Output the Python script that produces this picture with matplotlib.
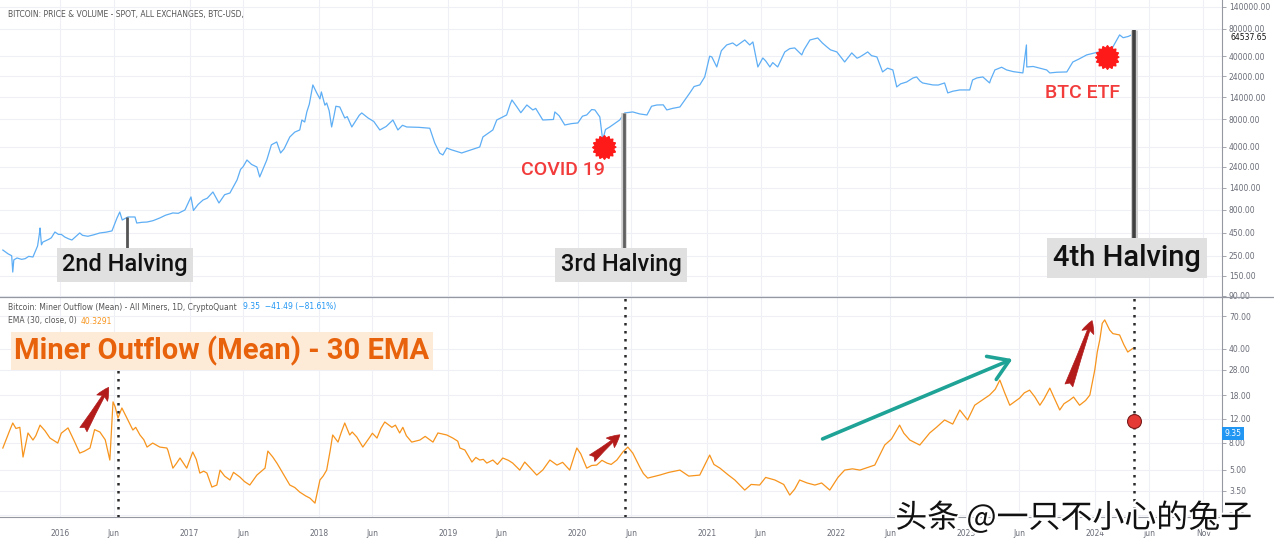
import matplotlib
matplotlib.use("Agg")
import matplotlib.pyplot as plt
import matplotlib.ticker as mticker
import matplotlib.patheffects as pe
from matplotlib.patches import FancyArrowPatch
from matplotlib.lines import Line2D
import numpy as np
import pandas as pd

# ---------------- data ----------------
price_dates = ["2015-07-24", "2015-08-08", "2015-08-18", "2015-08-21", "2015-08-24", "2015-09-02",
               "2015-09-25", "2015-10-17", "2015-10-30", "2015-11-04", "2015-11-06", "2015-11-10",
               "2015-11-14", "2015-12-01", "2015-12-18", "2016-01-05", "2016-01-15", "2016-02-04",
               "2016-02-26", "2016-03-20", "2016-04-23", "2016-05-27", "2016-06-10", "2016-06-18",
               "2016-06-25", "2016-07-11", "2016-07-31", "2016-08-05", "2016-09-03", "2016-10-09",
               "2016-11-15", "2016-12-19", "2017-01-05", "2017-01-12", "2017-02-08", "2017-03-08",
               "2017-03-25", "2017-04-25", "2017-05-15", "2017-06-12", "2017-07-10", "2017-07-18",
               "2017-08-07", "2017-09-04", "2017-09-15", "2017-10-11", "2017-11-08", "2017-11-14",
               "2017-11-22", "2017-12-15", "2017-12-26", "2018-01-04", "2018-01-08", "2018-01-18",
               "2018-01-23", "2018-02-06", "2018-02-12", "2018-03-01", "2018-03-15", "2018-04-04",
               "2018-05-02", "2018-06-22", "2018-07-29", "2018-08-12", "2018-09-06", "2018-11-10",
               "2018-11-24", "2018-12-17", "2018-12-28", "2019-02-08", "2019-03-31", "2019-04-09",
               "2019-05-07", "2019-05-18", "2019-06-15", "2019-06-30", "2019-07-14", "2019-08-11",
               "2019-08-28", "2019-09-25", "2019-10-29", "2019-11-26", "2020-01-02", "2020-01-27",
               "2020-02-19", "2020-03-04", "2020-03-12", "2020-04-01", "2020-04-29", "2020-05-13",
               "2020-06-05", "2020-07-15", "2020-08-12", "2020-09-09", "2020-10-16", "2020-11-13",
               "2020-12-11", "2020-12-25", "2021-01-14", "2021-01-28", "2021-02-25", "2021-03-14",
               "2021-04-17", "2021-05-01", "2021-05-10", "2021-05-24", "2021-06-07", "2021-06-27",
               "2021-07-19", "2021-08-08", "2021-09-05", "2021-09-25", "2021-10-18", "2021-11-09",
               "2021-12-05", "2022-01-02", "2022-01-24", "2022-02-13", "2022-03-08", "2022-03-30",
               "2022-04-25", "2022-05-11", "2022-06-09", "2022-06-20", "2022-07-18", "2022-08-15",
               "2022-09-01", "2022-09-30", "2022-11-02", "2022-11-11", "2022-12-15", "2023-01-12",
               "2023-01-20", "2023-02-18", "2023-03-09", "2023-03-24", "2023-04-26", "2023-06-11",
               "2023-06-21", "2023-06-22", "2023-08-17", "2023-08-26", "2023-10-13", "2023-10-30",
               "2023-12-08", "2024-01-14", "2024-02-03", "2024-02-20", "2024-03-10", "2024-03-30",
               "2024-04-13", "2024-04-22",
               # additional readings of the jagged line
               "2015-09-15", "2015-10-05", "2015-12-08", "2015-12-28", "2016-01-25", "2016-03-05",
               "2016-04-05", "2016-05-10", "2016-08-20", "2016-09-20", "2016-10-25", "2016-11-30",
               "2017-01-25", "2017-02-20", "2017-04-10", "2017-05-25", "2017-06-01", "2017-06-25",
               "2017-08-20", "2017-09-25", "2017-10-25", "2017-11-28", "2017-12-05", "2017-12-20",
               "2018-01-30", "2018-02-18", "2018-03-22", "2018-04-25", "2018-05-20", "2018-06-05",
               "2018-07-10", "2018-08-25", "2018-10-10", "2018-12-08", "2019-01-10", "2019-06-25",
               "2019-07-25", "2019-09-05", "2019-10-25", "2019-11-10", "2019-12-15", "2020-01-15",
               "2020-02-10", "2020-03-20", "2020-06-25", "2020-07-28", "2020-08-30", "2020-09-25",
               "2020-11-25", "2021-01-08", "2021-02-10", "2021-03-25", "2021-06-15", "2021-07-05",
               "2021-08-22", "2021-10-01", "2021-11-22", "2021-12-15", "2022-02-28", "2022-03-20",
               "2022-04-10", "2022-05-25", "2022-07-01", "2022-08-05", "2022-08-25", "2022-10-15",
               "2022-11-25", "2023-02-01", "2023-03-12", "2023-04-12", "2023-05-15", "2023-07-10",
               "2023-09-15", "2023-11-15", "2024-01-05", "2024-01-22", "2024-03-20", "2024-04-03"]
price_values = [289, 262, 250, 165, 225, 236,
                232, 242, 320, 430, 506, 330,
                354, 380, 457, 430, 402, 373,
                446, 410, 446, 470, 650, 760,
                620, 670, 670, 574, 589, 653,
                742, 800, 1115, 790, 1031, 1265,
                956, 1233, 1715, 2853, 2388, 1854,
                2853, 4512, 3412, 5130, 6125, 7892,
                7500, 19250, 15710, 13500, 16110, 11500,
                12170, 6610, 8500, 10990, 8300, 6610,
                9443, 6125, 7892, 6125, 6610, 6400,
                4399, 3243, 3874, 3412, 3973, 5130,
                6125, 7892, 8971, 13130, 10990, 11560,
                10190, 7892, 9685, 6953, 7319, 8971,
                10190, 8526, 4746, 6610, 7892, 9443,
                9685, 8971, 11560, 10190, 10990, 15710,
                19250, 23600, 39270, 30420, 53230, 55990,
                60410, 53230, 57440, 30420, 38200, 30420,
                30420, 44580, 49340, 41310, 60410, 63560,
                50590, 44580, 34530, 43470, 39270, 44580,
                39270, 26800, 28200, 18290, 20760, 23600,
                20250, 19250, 20250, 15710, 16950, 16950,
                21840, 23600, 20250, 28200, 28200, 26130,
                53230, 30420, 28200, 26130, 26800, 34530,
                41310, 44580, 39270, 50590, 68730, 65340,
                68730, 64537.65,
                228, 246, 395, 430, 385, 420,
                425, 455, 585, 610, 700, 735,
                920, 1080, 1180, 2250, 2400, 2550,
                4200, 3800, 5800, 9700, 11800, 17500,
                10000, 11200, 8600, 8900, 8300, 7600,
                6700, 6900, 6550, 3400, 3700, 11800,
                9500, 10600, 8000, 8800, 7200, 8700,
                10300, 6200, 9200, 11200, 11600, 10600,
                18500, 40000, 46000, 52000, 35500, 34000,
                48500, 47000, 56000, 47000, 38000, 42000,
                40500, 29500, 19800, 23000, 21200, 19200,
                16400, 23000, 22000, 30200, 27000, 30800,
                26600, 37000, 44000, 40000, 64000, 66000]

outflow_dates = ["2015-07-24", "2015-08-04", "2015-08-21", "2015-09-10", "2015-09-19", "2015-10-03",
                 "2015-10-17", "2015-11-06", "2015-12-04", "2015-12-26", "2016-01-24", "2016-02-12",
                 "2016-02-26", "2016-03-26", "2016-04-23", "2016-05-21", "2016-05-30", "2016-06-13",
                 "2016-06-24", "2016-07-08", "2016-07-25", "2016-08-14", "2016-09-03", "2016-09-19",
                 "2016-10-09", "2016-10-29", "2016-11-15", "2016-12-05", "2016-12-24", "2017-01-10",
                 "2017-01-30", "2017-02-19", "2017-03-05", "2017-03-19", "2017-03-28", "2017-04-25",
                 "2017-05-23", "2017-06-20", "2017-07-10", "2017-08-02", "2017-08-10", "2017-08-24",
                 "2017-09-21", "2017-10-11", "2017-11-08", "2017-12-07", "2017-12-21", "2018-01-04",
                 "2018-01-18", "2018-01-23", "2018-02-09", "2018-02-24", "2018-03-15", "2018-03-29",
                 "2018-04-18", "2018-05-05", "2018-05-25", "2018-06-14", "2018-07-06", "2018-07-26",
                 "2018-08-17", "2018-08-26", "2018-09-20", "2018-10-13", "2018-11-19", "2018-12-03",
                 "2018-12-28", "2019-01-14", "2019-02-03", "2019-02-17", "2019-03-09", "2019-03-31",
                 "2019-04-20", "2019-05-07", "2019-06-04", "2019-07-02", "2019-07-22", "2019-08-05",
                 "2019-09-08", "2019-10-15", "2019-11-04", "2019-12-10", "2019-12-30", "2020-01-27",
                 "2020-02-24", "2020-03-24", "2020-04-21", "2020-05-08", "2020-05-22", "2020-06-05",
                 "2020-06-25", "2020-07-17", "2020-08-20", "2020-10-16", "2020-12-11", "2021-01-08",
                 "2021-02-06", "2021-03-20", "2021-04-17", "2021-05-29", "2021-07-11", "2021-08-22",
                 "2021-09-19", "2021-11-01", "2021-12-13", "2022-01-24", "2022-03-08", "2022-04-19",
                 "2022-05-17", "2022-06-28", "2022-07-27", "2022-08-24", "2022-09-21", "2022-11-02",
                 "2022-12-15", "2023-01-06", "2023-01-26", "2023-03-09", "2023-04-07", "2023-05-05",
                 "2023-06-02", "2023-06-30", "2023-07-29", "2023-08-26", "2023-09-23", "2023-10-21",
                 "2023-11-18", "2023-12-17", "2023-12-31", "2024-01-14", "2024-01-28", "2024-02-11",
                 "2024-03-10", "2024-04-02", "2024-04-16",
                 # additional readings
                 "2015-08-12", "2015-08-30", "2015-10-25", "2015-11-20", "2016-01-05", "2016-03-10",
                 "2016-04-08", "2016-05-08", "2016-06-05", "2016-08-02", "2016-08-25", "2016-11-01",
                 "2016-11-25", "2017-01-20", "2017-02-10", "2017-04-10", "2017-05-05", "2017-06-05",
                 "2017-09-05", "2017-10-25", "2017-11-25", "2018-01-13", "2018-02-02", "2018-03-05",
                 "2018-04-05", "2018-06-01", "2018-06-25", "2018-08-05", "2018-09-05", "2018-10-28",
                 "2019-01-28", "2019-03-20", "2019-04-10", "2019-05-20", "2019-06-20", "2019-08-20",
                 "2019-09-25", "2019-11-20", "2020-01-10", "2020-02-10", "2020-03-10", "2020-04-05",
                 "2020-07-05", "2020-09-15", "2020-11-10", "2021-01-20", "2021-03-01", "2021-05-05",
                 "2021-06-15", "2021-08-05", "2021-09-05", "2021-10-10", "2021-11-20", "2022-01-05",
                 "2022-02-15", "2022-06-05", "2022-07-10", "2022-10-10", "2022-11-25", "2023-02-15",
                 "2023-03-25", "2023-04-20", "2023-06-15", "2023-07-15", "2023-08-10", "2023-09-05",
                 "2023-10-05", "2023-11-01", "2023-12-05", "2024-01-07", "2024-01-21", "2024-02-20",
                 "2024-03-22"]
outflow_values = [7.29, 8.65, 11.2, 10.4, 6.24, 9.44,
                  8.36, 10.8, 8.65, 7.94, 10.3, 8.07,
                  6.68, 7.29, 9.59, 5.93, 16.1, 12.2,
                  14.5, 12.2, 9.93, 9.12, 7.41, 7.94,
                  7.41, 7.29, 5.16, 6.14, 5.16, 6.81,
                  4.74, 4.74, 3.73, 3.86, 4.99, 4.21,
                  4.43, 3.86, 4.58, 5.16, 6.92, 6.24,
                  4.74, 3.86, 3.42, 3.08, 2.83, 4.21,
                  4.74, 4.99, 9.12, 8.07, 11.2, 9.12,
                  8.81, 7.41, 8.81, 8.65, 11.4, 10.4,
                  9.44, 10.4, 8.07, 8.36, 8.07, 9.44,
                  9.12, 8.65, 7.29, 7.05, 5.73, 5.93,
                  5.63, 5.93, 6.14, 5.63, 4.99, 5.73,
                  4.58, 5.93, 5.44, 4.99, 7.29, 5.16,
                  5.44, 5.63, 5.93, 6.81, 7.41, 6.68,
                  5.24, 4.35, 4.58, 4.99, 4.58, 6.46,
                  5.16, 4.21, 3.54, 3.86, 4.21, 3.25,
                  4.21, 3.86, 3.54, 4.99, 4.99, 5.44,
                  7.67, 10.8, 8.36, 7.67, 9.44, 11.8,
                  14.0, 11.8, 15.2, 18.1, 23.4, 15.2,
                  17.2, 19.7, 15.2, 20.4, 14.0, 16.6,
                  15.2, 18.1, 27.9, 46.6, 65.8, 55.3,
                  50.8, 37.9, 40.3,
                  9.8, 10.2, 9.0, 9.8, 9.4, 6.9,
                  10.0, 8.4, 14.8, 10.4, 8.4, 7.0,
                  5.6, 6.0, 4.9, 4.5, 4.8, 4.1,
                  5.6, 3.7, 3.2, 4.5, 7.0, 9.5,
                  9.6, 9.4, 10.2, 10.8, 9.0, 8.9,
                  8.2, 6.2, 6.0, 5.5, 5.9, 5.2,
                  5.0, 5.7, 6.6, 5.4, 5.9, 5.5,
                  4.7, 4.8, 4.5, 5.5, 4.6, 3.9,
                  4.4, 3.9, 3.6, 4.0, 4.0, 4.4,
                  5.1, 8.5, 9.4, 10.4, 11.0, 16.5,
                  20.0, 19.0, 18.8, 17.5, 17.0, 17.8,
                  15.6, 17.5, 16.5, 38.0, 62.0, 52.0,
                  43.0]

halving_dates = ["2016-07-09", "2020-05-11", "2024-04-20"]
halving_labels = ["2nd Halving", "3rd Halving", "4th Halving"]
outflow_halving_dates = ["2016-06-13", "2020-05-14", "2024-04-20"]
event_dates = ["2020-03-15", "2024-02-03"]
event_prices = [4000, 39270]
event_labels = ["COVID 19", "BTC ETF"]
last_point_date = "2024-04-20"
last_point_value = 11.5

price_ticks = [90, 150, 250, 450, 800, 1400, 2400, 4000, 8000, 14000, 24000, 40000, 80000, 140000]
outflow_ticks = [2.3, 3.5, 5, 8, 12, 18, 28, 40, 70]
year_ticks = ["2016-01-01", "2017-01-01", "2018-01-01", "2019-01-01", "2020-01-01",
              "2021-01-01", "2022-01-01", "2023-01-01", "2024-01-01"]
jun_ticks = ["2016-06-01", "2017-06-01", "2018-06-01", "2019-06-01", "2020-06-01",
             "2021-06-01", "2022-06-01", "2023-06-01", "2024-06-01"]
nov_tick = "2024-11-01"

# ---------------- layout ----------------
W, H = 1274, 543
def P(x, y):
    return (x / W, 1 - y / H)

fig = plt.figure(figsize=(W / 100, H / 100), dpi=100)
fig.patch.set_facecolor("white")

ax1 = fig.add_axes([0, 1 - 297 / H, 1222 / W, 297 / H])
ax2 = fig.add_axes([0, 1 - 517 / H, 1222 / W, (517 - 297) / H], sharex=ax1)

price = pd.Series(price_values, index=pd.to_datetime(price_dates)).sort_index()
outflow = pd.Series(outflow_values, index=pd.to_datetime(outflow_dates)).sort_index()

GRID = "#eef0f6"
AXC = "#9598a1"
TXT = "#6a6d78"

ax1.plot(price.index, price.values, color="#5eaef5", lw=0.9, zorder=3)
ax2.plot(outflow.index, outflow.values, color="#f7941d", lw=0.9, zorder=3)

ax1.set_yscale("log")
ax2.set_yscale("log")
ax1.set_ylim(87.5, 167000)
ax2.set_ylim(2.23, 97.5)
ax1.set_xlim(pd.Timestamp("2015-07-16"), pd.Timestamp("2024-12-24"))

for ax, ticks in ((ax1, price_ticks), (ax2, outflow_ticks)):
    ax.yaxis.tick_right()
    ax.yaxis.set_major_locator(mticker.FixedLocator(ticks))
    ax.yaxis.set_major_formatter(mticker.FuncFormatter(lambda v, p: f"{v:.2f}"))
    ax.yaxis.set_minor_locator(mticker.NullLocator())
    ax.tick_params(axis="y", labelsize=5.5, colors=AXC, labelcolor=TXT, length=3, width=0.6, pad=2)
    for s in ("left", "top", "bottom"):
        ax.spines[s].set_visible(False)
    ax.spines["right"].set_color(AXC)
    ax.spines["right"].set_linewidth(0.8)
    ax.set_facecolor("white")
    ax.grid(True, color=GRID, lw=0.8, zorder=0)

ax2.spines["bottom"].set_visible(True)
ax2.spines["bottom"].set_color(AXC)
ax2.spines["bottom"].set_linewidth(0.8)

xt = pd.to_datetime(year_ticks + jun_ticks + [nov_tick])
xl = [d[:4] for d in year_ticks] + ["Jun"] * len(jun_ticks) + ["Nov"]
ax2.set_xticks(xt)
ax2.set_xticklabels(xl)
ax2.tick_params(axis="x", labelsize=5.5, labelcolor=TXT, length=0, pad=9)
ax1.tick_params(axis="x", length=0, labelbottom=False)

# divider line between panels
fig.add_artist(Line2D([0, 1], [1 - 297 / H, 1 - 297 / H], color=AXC, lw=0.9))

# halving lines in price panel
hd = pd.to_datetime(halving_dates)
ax1.vlines(hd[0], 300, 670, color="#555555", lw=2, zorder=4)
ax1.vlines(hd[1], 300, 9443, color="#cfcfcf", lw=4, zorder=4)
ax1.vlines(hd[1], 300, 9443, color="#606060", lw=2, zorder=4)
ax1.vlines(hd[2], 380, 77700, color="#cfcfcf", lw=5, zorder=4)
ax1.vlines(hd[2], 380, 77700, color="#404040", lw=2.6, zorder=4)

hb = dict(boxstyle="square,pad=0.22", fc="#e0e0e0", ec="none")
fig.text(*P(125, 265), halving_labels[0], ha="center", va="center", fontsize=17,
         family="Roboto", weight="medium", color="#111111", bbox=hb, zorder=6)
fig.text(*P(621, 265), halving_labels[1], ha="center", va="center", fontsize=17,
         family="Roboto", weight="medium", color="#111111", bbox=hb, zorder=6)
fig.text(*P(1127, 258), halving_labels[2], ha="center", va="center", fontsize=21,
         family="Roboto", weight="medium", color="#111111", bbox=hb, zorder=6)

# event markers (seal shape)
th = np.linspace(0, 2 * np.pi, 33)[:-1]
rr = np.where(np.arange(32) % 2 == 0, 1.0, 0.8)
seal = list(zip(rr * np.cos(th), rr * np.sin(th)))
ax1.plot(pd.to_datetime(event_dates), event_prices, ls="none", marker=seal, ms=17,
         mfc="#ff1a1a", mec="#ff1a1a", zorder=5)
fig.text(*P(563, 170), event_labels[0], ha="center", va="center", fontsize=14,
         family="Roboto", weight="medium", color="#f23b3b")
fig.text(*P(1083, 93), event_labels[1], ha="center", va="center", fontsize=14,
         family="Roboto", weight="medium", color="#f23b3b")

# price last value label
ax1.annotate("64537.65", xy=(1.0, 64537.65), xycoords=("axes fraction", "data"),
             xytext=(6, 0), textcoords="offset points", fontsize=5.5, color="#111111",
             va="center", ha="left", annotation_clip=False)

# header
fig.text(*P(8, 14), "BITCOIN: PRICE & VOLUME - SPOT, ALL EXCHANGES, BTC-USD,", fontsize=5.5,
         color="#555555", va="center")

# outflow panel annotations
ohd = pd.to_datetime(outflow_halving_dates)
ax2.vlines(ohd[0], 2.23, 28, color="#2a2a2a", lw=1.8, ls=(0, (1, 2.2)), zorder=4)
for d in ohd[1:]:
    ax2.axvline(d, color="#2a2a2a", lw=1.8, ls=(0, (1, 2.2)), zorder=4)

ax2.plot(pd.to_datetime([last_point_date]), [last_point_value], ls="none", marker="o", ms=10,
         mfc="#e53935", mec="#7a1a1a", mew=0.8, zorder=6)

ax2.annotate("9.35", xy=(1.0, 9.35), xycoords=("axes fraction", "data"), xytext=(2, 0),
             textcoords="offset points", fontsize=5.5, color="white", va="center", ha="left",
             bbox=dict(boxstyle="square,pad=0.3", fc="#2196f3", ec="none"),
             annotation_clip=False, zorder=7)

fig.text(*P(8, 307), "Bitcoin: Miner Outflow (Mean) - All Miners, 1D, CryptoQuant", fontsize=5.5,
         color="#555555", va="center")
fig.text(*P(243, 307), "9.35  \u221241.49 (\u221281.61%)", fontsize=5.5, color="#2196f3", va="center")
fig.text(*P(8, 321), "EMA (30, close, 0)", fontsize=5.5, color="#555555", va="center")
fig.text(*P(81, 321), "40.3291", fontsize=5.5, color="#f7941d", va="center")

fig.text(*P(222, 351), "Miner Outflow (Mean) - 30 EMA", ha="center", va="center", fontsize=21,
         family="Roboto", weight="bold", color="#e8620c",
         bbox=dict(boxstyle="square,pad=0.12", fc="#fdebd8", ec="none"), zorder=6)

def arrow(x0, y0, x1, y1, **kw):
    a = FancyArrowPatch(P(x0, y0), P(x1, y1), transform=fig.transFigure, **kw)
    fig.add_artist(a)

red = dict(arrowstyle="fancy,head_length=9,head_width=9,tail_width=6", fc="#b31b1b", ec="#b31b1b",
           lw=0.5, zorder=8)
arrow(82, 432, 110, 385, **red)
arrow(590, 460, 622, 433, **red)
arrow(1068, 388, 1093, 318, **red)
arrow(820, 440, 1015, 358, arrowstyle="->,head_length=0.7,head_width=0.45", mutation_scale=20,
      color="#1fa396", lw=2.6, zorder=8)

# watermark
fig.text(*P(1074, 518), "头条 @一只不小心的兔子", ha="center", va="center", fontsize=23,
         family=["Noto Sans CJK SC", "DejaVu Sans"], color="#111111", zorder=10,
         path_effects=[pe.withStroke(linewidth=3, foreground="white")])

fig.savefig("out.png", dpi=100)
